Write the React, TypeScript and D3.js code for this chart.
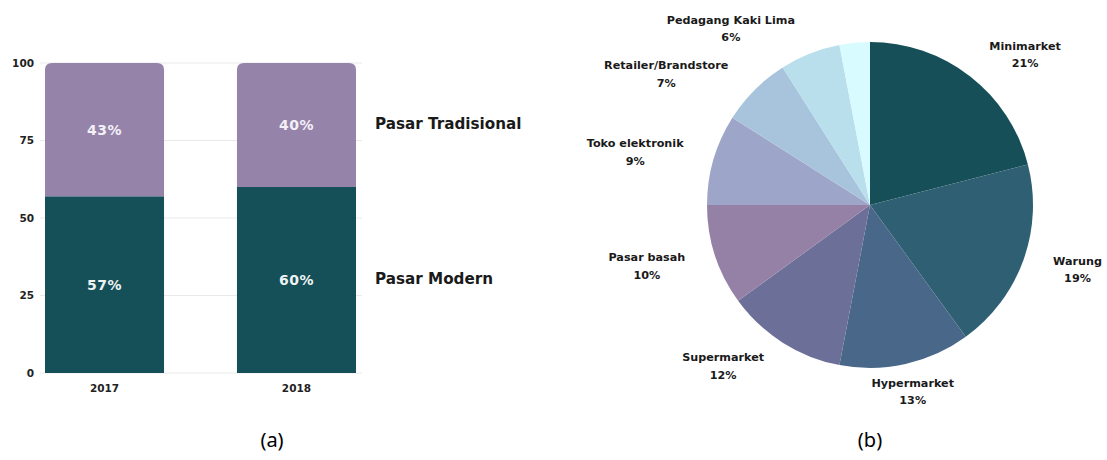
import React from "react";
import * as d3 from "d3";

// ---- Data: chart (a) ----
const years = ["2017", "2018"];
const modern = [57, 60];
const traditional = [43, 40];
const yTicks = [0, 25, 50, 75, 100];
const seriesNames = ["Pasar Modern", "Pasar Tradisional"];

// ---- Data: chart (b) ----
const pieCategories = [
  "Minimarket",
  "Warung",
  "Hypermarket",
  "Supermarket",
  "Pasar basah",
  "Toko elektronik",
  "Retailer/Brandstore",
  "Pedagang Kaki Lima",
  "",
];
const pieValues = [21, 19, 13, 12, 10, 9, 7, 6, 3];

// ---- Styles / layout (not data) ----
const pieColors = [
  "#174f58",
  "#2f5f73",
  "#486789",
  "#6c6f98",
  "#9581a6",
  "#9da5c9",
  "#a8c4dd",
  "#b9dfec",
  "#d8fbff",
];
const labelLayout = [
  { a: 45.6, r: 217 },
  { a: 107, r: 217 },
  { a: 167, r: 190 },
  { a: 222.6, r: 217 },
  { a: 255, r: 231 },
  { a: 283, r: 241 },
  { a: 303, r: 243 },
  { a: 322, r: 226 },
  { a: 0, r: 0 },
];

const W = 1107;
const H = 460;
const FONT = "'DejaVu Sans', Verdana, sans-serif";
const DARK = "#154f57";
const PURPLE = "#9583a9";

function BarChart() {
  const x = d3.scaleBand<string>().domain(years).range([45, 356]).paddingInner(0.38).paddingOuter(0);
  const y = d3.scaleLinear().domain([0, 100]).range([373, 63]);
  const bw = x.bandwidth();
  const rr = 7;
  const topPath = (x0: number, y0: number, w: number, y1: number) => {
    const p = d3.path();
    p.moveTo(x0, y1);
    p.lineTo(x0, y0 + rr);
    p.quadraticCurveTo(x0, y0, x0 + rr, y0);
    p.lineTo(x0 + w - rr, y0);
    p.quadraticCurveTo(x0 + w, y0, x0 + w, y0 + rr);
    p.lineTo(x0 + w, y1);
    p.closePath();
    return p.toString();
  };
  return (
    <g>
      {yTicks.map((t) => (
        <g key={t}>
          <line x1={40} x2={362} y1={y(t)} y2={y(t)} stroke="#e9e9e9" strokeWidth={1} />
          <text x={34} y={y(t)} dy="0.35em" textAnchor="end" fontSize={10.5} fontWeight={700} fill="#222" fontFamily={FONT}>
            {t}
          </text>
        </g>
      ))}
      {years.map((yr, i) => {
        const x0 = x(yr)!;
        const m = modern[i];
        const tr = traditional[i];
        return (
          <g key={yr}>
            <rect x={x0} y={y(m)} width={bw} height={y(0) - y(m)} fill={DARK} />
            <path d={topPath(x0, y(m + tr), bw, y(m))} fill={PURPLE} />
            <text x={x0 + bw / 2} y={(y(m) + y(0)) / 2} dy="0.35em" textAnchor="middle" fontSize={14} fontWeight={700} fill="#eef3f3" fontFamily={FONT} letterSpacing={0.5}>
              {m}%
            </text>
            <text x={x0 + bw / 2} y={(y(m + tr) + y(m)) / 2} dy="0.35em" textAnchor="middle" fontSize={14} fontWeight={700} fill="#f3f0f6" fontFamily={FONT} letterSpacing={0.5}>
              {tr}%
            </text>
            <text x={x0 + bw / 2} y={388} dy="0.35em" textAnchor="middle" fontSize={10.5} fontWeight={700} fill="#222" fontFamily={FONT}>
              {yr}
            </text>
          </g>
        );
      })}
      <text x={375} y={y(traditional[1] / 2 + modern[1]) - 1} dy="0.35em" fontSize={15.2} fontWeight={700} fill="#1a1a1a" fontFamily={FONT}>
        {seriesNames[1]}
      </text>
      <text x={375} y={y(modern[1] / 2) - 1} dy="0.35em" fontSize={15.2} fontWeight={700} fill="#1a1a1a" fontFamily={FONT}>
        {seriesNames[0]}
      </text>
      <text x={272} y={447} textAnchor="middle" fontSize={20} fill="#000" fontFamily="'Noto Sans', 'Open Sans', sans-serif">
        (a)
      </text>
    </g>
  );
}

function PieChart() {
  const cx = 870;
  const cy = 205;
  const R = 163;
  const pie = d3.pie<number>().sort(null).value((d) => d);
  const arcs = pie(pieValues);
  const arc = d3.arc<d3.PieArcDatum<number>>().innerRadius(0).outerRadius(R);
  return (
    <g>
      <g transform={`translate(${cx},${cy})`}>
        {arcs.map((a, i) => (
          <path key={i} d={arc(a)!} fill={pieColors[i]} />
        ))}
        {arcs.map((a, i) => {
          if (!pieCategories[i]) return null;
          const L = labelLayout[i];
          const ang = (L.a * Math.PI) / 180;
          const lx = Math.sin(ang) * L.r;
          const ly = -Math.cos(ang) * L.r;
          return (
            <text key={"l" + i} x={lx} y={ly} textAnchor="middle" fontSize={11.2} fontWeight={700} fill="#1a1a1a" fontFamily={FONT}>
              <tspan x={lx} dy="-0.3em">{pieCategories[i]}</tspan>
              <tspan x={lx} dy="1.55em">{pieValues[i]}%</tspan>
            </text>
          );
        })}
      </g>
      <text x={870} y={447} textAnchor="middle" fontSize={20} fill="#000" fontFamily="'Noto Sans', 'Open Sans', sans-serif">
        (b)
      </text>
    </g>
  );
}

export default function App() {
  return (
    <svg width={W} height={H} style={{ position: "absolute", left: 0, top: 0, background: "#fff" }}>
      <rect width={W} height={H} fill="#fff" />
      <BarChart />
      <PieChart />
    </svg>
  );
}
